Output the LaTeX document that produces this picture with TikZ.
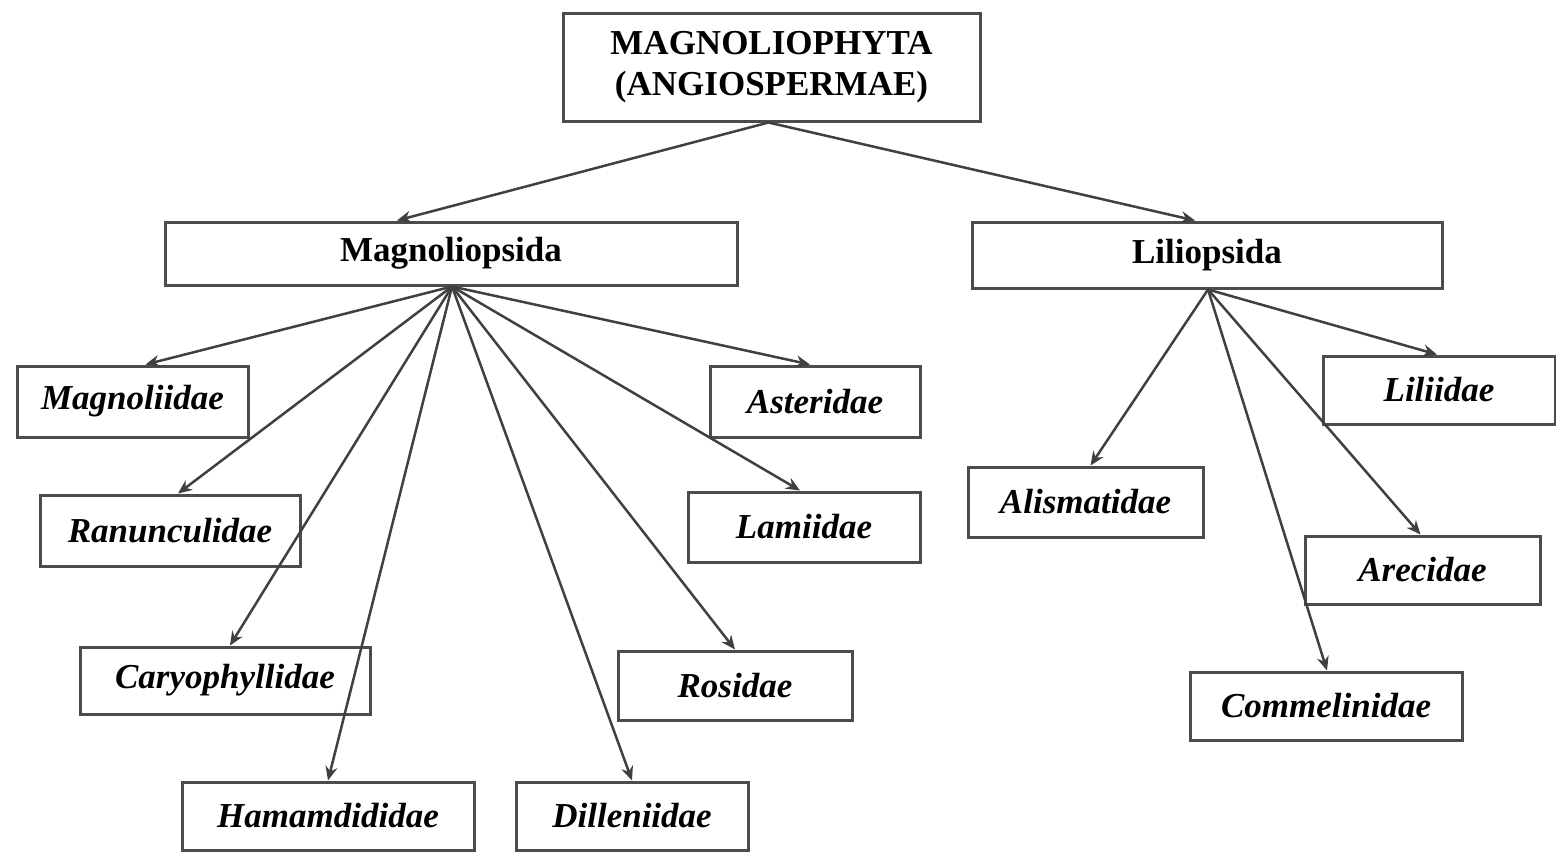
\documentclass[tikz,border=0pt]{standalone}
\usepackage{fontspec}
\setmainfont{Liberation Serif}
\usetikzlibrary{arrows.meta}
\tikzset{
  box/.style={draw=black!70, line width=1.5pt, fill=white, inner sep=0pt, align=center,
    font=\fontsize{17.5}{20.5}\selectfont\bfseries},
  taxon/.style={box, font=\fontsize{17.5}{20.5}\selectfont\bfseries\itshape},
  link/.style={draw=black!75, line width=1.25pt, -{Stealth[length=7pt,width=6pt]}}
}
\newcommand{\taxbox}[7]{%
  \node[#1, minimum width=#5*0.5pt, minimum height=#6*0.5pt] (#2) at (#3,#4) {#7};}
\begin{document}
\begin{tikzpicture}[x=0.5pt,y=-0.5pt]
\useasboundingbox (0,0) rectangle (1556,852);
\taxbox{box}{top}{771.5}{67}{417}{108}{MAGNOLIOPHYTA\\(ANGIOSPERMAE)}
\taxbox{box}{magnoliopsida}{451}{253.5}{572}{63}{Magnoliopsida}
\taxbox{box}{liliopsida}{1207}{255}{470}{66}{Liliopsida}
\taxbox{taxon}{magnoliidae}{132.5}{401.5}{231}{71}{Magnoliidae}
\taxbox{taxon}{ranunculidae}{170}{530.5}{260}{71}{Ranunculidae}
\taxbox{taxon}{caryophyllidae}{225}{680.5}{290}{67}{Caryophyllidae}
\taxbox{taxon}{hamamdididae}{328}{816}{292}{68}{Hamamdididae}
\taxbox{taxon}{dilleniidae}{632}{816}{232}{68}{Dilleniidae}
\taxbox{taxon}{rosidae}{735}{685.5}{234}{69}{Rosidae}
\taxbox{taxon}{lamiidae}{804}{527}{232}{70}{Lamiidae}
\taxbox{taxon}{asteridae}{815}{401.5}{210}{71}{Asteridae}
\taxbox{taxon}{alismatidae}{1085.5}{502}{235}{70}{Alismatidae}
\taxbox{taxon}{liliidae}{1439}{390}{232}{68}{Liliidae}
\taxbox{taxon}{arecidae}{1422.5}{570}{235}{68}{Arecidae}
\taxbox{taxon}{commelinidae}{1326}{706}{272}{68}{Commelinidae}
% connectors
\draw[link] ([xshift=-1.5pt]top.south) -- ([xshift=-27pt]magnoliopsida.north);
\draw[link] ([xshift=-1.5pt]top.south) -- ([xshift=-6pt]liliopsida.north);
\foreach \c/\dx in {magnoliidae/6.5pt, ranunculidae/4pt, caryophyllidae/2.5pt, hamamdididae/0pt,
                    dilleniidae/0pt, rosidae/0pt, lamiidae/-2pt, asteridae/-2.5pt}
  \draw[link] ([xshift=0.5pt]magnoliopsida.south) -- ([xshift=\dx]\c.north);
\foreach \c/\dx in {alismatidae/2.5pt, liliidae/-1pt, arecidae/-1pt, commelinidae/0.5pt}
  \draw[link] ([xshift=0.5pt]liliopsida.south) -- ([xshift=\dx]\c.north);
\end{tikzpicture}
\end{document}
